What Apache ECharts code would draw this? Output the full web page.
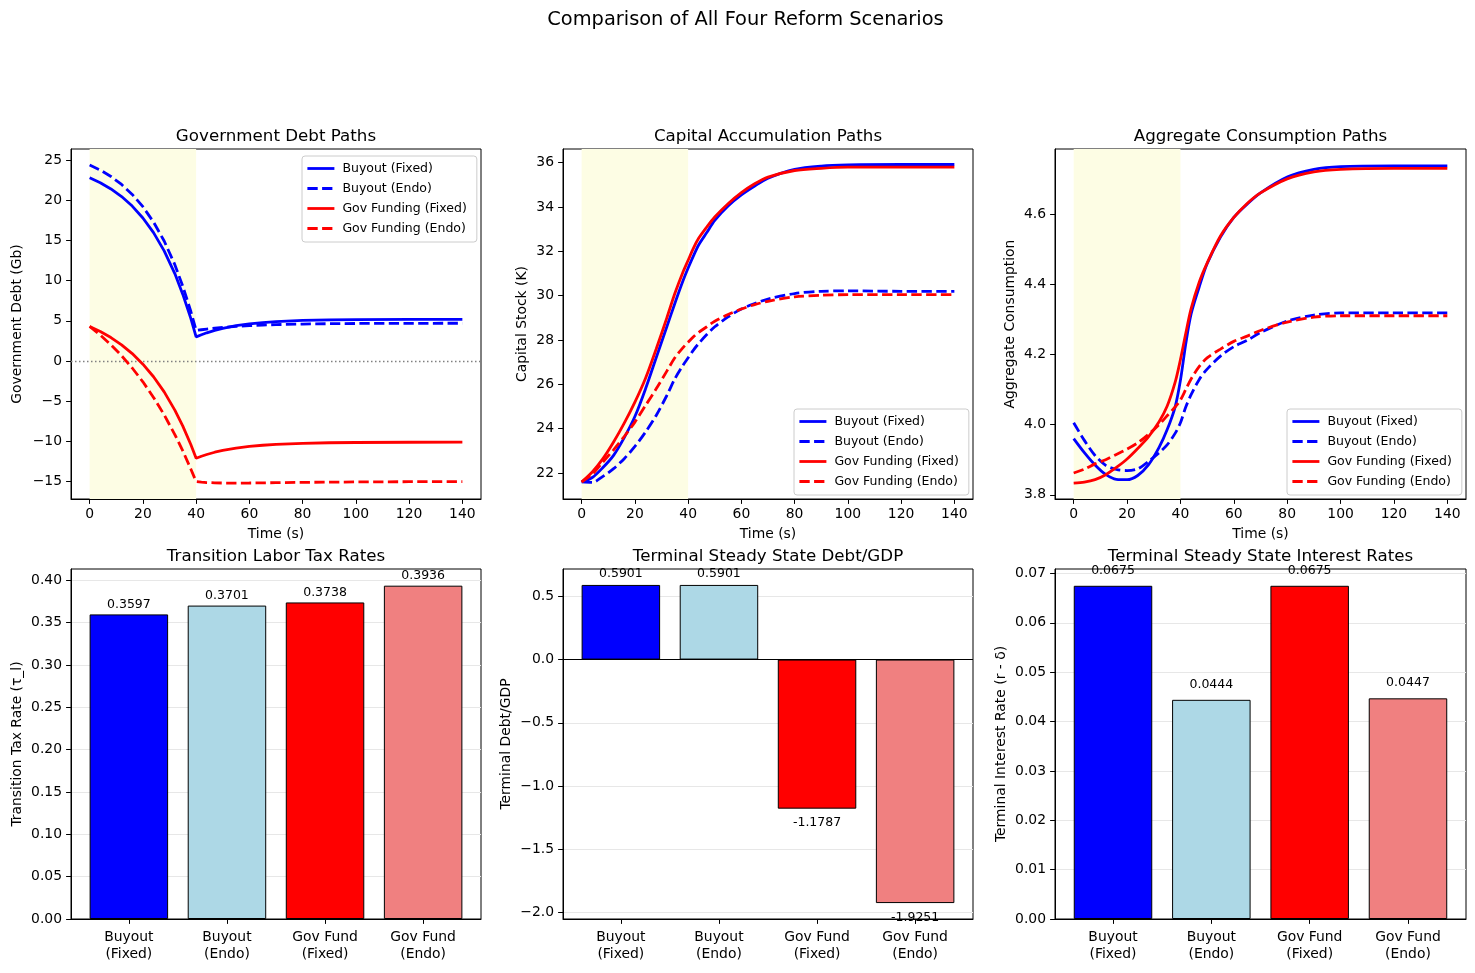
<!DOCTYPE html>
<html><head><meta charset="utf-8">
<script src="https://cdn.jsdelivr.net/npm/echarts@6/dist/echarts.min.js"></script>
<style>html,body{margin:0;padding:0;background:#fff}#c{width:1475px;height:973px}</style>
</head><body><div id="c"></div>
<script>
// ---- data ----
const timeSteps = [0,4,8,12,16,20,24,28,32,35,38,40,42,44,47,50,55,60,65,70,80,90,100,120,140];

const debtBuyoutFixed = [22.8,22.18,21.41,20.46,19.28,17.80,15.97,13.70,10.88,8.29,5.31,3.0,3.27,3.51,3.82,4.07,4.39,4.62,4.78,4.90,5.05,5.12,5.15,5.17,5.17];
const debtBuyoutEndo  = [24.4,23.76,22.96,21.97,20.73,19.20,17.29,14.93,11.99,9.29,6.19,3.8,3.89,3.98,4.09,4.18,4.31,4.40,4.48,4.53,4.60,4.64,4.67,4.69,4.70];
const debtGovFixed    = [4.3,3.67,2.92,2.01,0.92,-0.39,-1.96,-3.84,-6.11,-8.10,-10.39,-12.1,-11.85,-11.63,-11.35,-11.13,-10.84,-10.63,-10.48,-10.37,-10.24,-10.17,-10.14,-10.11,-10.1];
const debtGovEndo     = [4.3,3.23,2.02,0.66,-0.87,-2.59,-4.53,-6.70,-9.15,-11.18,-13.44,-15.0,-15.07,-15.12,-15.16,-15.18,-15.19,-15.18,-15.16,-15.14,-15.1,-15.07,-15.05,-15.02,-15.0];

const capBuyoutFixed = [21.6,21.8,22.25,22.8,23.6,24.55,25.8,27.2,28.6,29.65,30.65,31.25,31.8,32.3,32.85,33.4,34.05,34.55,34.95,35.3,35.7,35.85,35.9,35.92,35.92];
const capBuyoutEndo  = [21.6,21.58,21.85,22.2,22.65,23.2,23.85,24.6,25.5,26.25,26.85,27.2,27.55,27.85,28.25,28.6,29.05,29.4,29.65,29.85,30.1,30.2,30.22,30.2,30.2];
const capGovFixed    = [21.6,22.05,22.65,23.4,24.25,25.2,26.28,27.6,29.0,30.1,31.05,31.6,32.15,32.6,33.1,33.55,34.15,34.65,35.05,35.35,35.65,35.75,35.8,35.8,35.8];
const capGovEndo     = [21.6,21.95,22.5,23.05,23.65,24.3,25.05,25.8,26.6,27.2,27.65,27.9,28.15,28.35,28.6,28.85,29.15,29.4,29.6,29.75,29.95,30.02,30.05,30.05,30.05];

const consBuyoutFixed = [3.96,3.92,3.885,3.858,3.844,3.843,3.855,3.885,3.935,3.985,4.05,4.126,4.23,4.315,4.391,4.458,4.534,4.59,4.628,4.66,4.705,4.727,4.735,4.737,4.737];
const consBuyoutEndo  = [4.005,3.955,3.912,3.884,3.872,3.869,3.874,3.895,3.92,3.942,3.975,4.005,4.05,4.085,4.128,4.158,4.195,4.222,4.24,4.262,4.295,4.312,4.318,4.318,4.318];
const consGovFixed    = [3.833,3.836,3.843,3.857,3.878,3.902,3.932,3.965,4.008,4.052,4.12,4.185,4.26,4.33,4.405,4.46,4.537,4.59,4.63,4.66,4.70,4.72,4.727,4.73,4.73];
const consGovEndo     = [3.862,3.873,3.888,3.9,3.915,3.93,3.948,3.972,4.0,4.025,4.05,4.07,4.1,4.13,4.165,4.19,4.215,4.237,4.252,4.268,4.292,4.306,4.31,4.31,4.31];

const seriesNames = ['Buyout (Fixed)','Buyout (Endo)','Gov Funding (Fixed)','Gov Funding (Endo)'];

const barCategories = ['Buyout\n(Fixed)','Buyout\n(Endo)','Gov Fund\n(Fixed)','Gov Fund\n(Endo)'];
const taxRates      = [0.3597,0.3701,0.3738,0.3936];
const debtToGdp     = [0.5901,0.5901,-1.1787,-1.9251];
const interestRates = [0.0675,0.0444,0.0675,0.0447];

const timeTicks   = [0,20,40,60,80,100,120,140];
const debtTicks   = [-15,-10,-5,0,5,10,15,20,25];
const capTicks    = [22,24,26,28,30,32,34,36];
const consTicks   = [3.8,4.0,4.2,4.4,4.6];
const taxTicks    = [0,0.05,0.10,0.15,0.20,0.25,0.30,0.35,0.40];
const dgdpTicks   = [-2.0,-1.5,-1.0,-0.5,0.0,0.5];
const rateTicks   = [0,0.01,0.02,0.03,0.04,0.05,0.06,0.07];
const barTicks    = [0,1,2,3];

// ---- styles ----
const FONT = 'DejaVu Sans';
const lineColors = ['#0000ff','#0000ff','#ff0000','#ff0000'];
const lineTypes = ['solid',[10.3,4.4],'solid',[10.3,4.4]];
const barColors = ['#0000ff','#add8e6','#ff0000','#f08080'];
const minus = s => s.replace('-', '\u2212');

const grids = [
  {left:71, top:149, width:410, height:350},
  {left:563, top:149, width:410, height:350},
  {left:1055, top:149, width:411, height:350},
  {left:71, top:569, width:410, height:350},
  {left:563, top:569, width:410, height:350},
  {left:1055, top:569, width:411, height:350}
].map(g => Object.assign({show:true, borderColor:'#000', borderWidth:1, backgroundColor:'transparent'}, g));

function baseAxis(gi, ticks, fmt) {
  return {
    gridIndex: gi,
    axisLine: {show:true, onZero:false, lineStyle:{color:'#000', width:1}},
    axisTick: {show:true, length:4.9, customValues:ticks, lineStyle:{color:'#000', width:1}},
    axisLabel: {customValues:ticks, color:'#000', fontSize:13.9, fontFamily:FONT, formatter:fmt},
    nameTextStyle: {color:'#000', fontSize:13.9, fontFamily:FONT},
    nameLocation: 'middle'
  };
}

const xAxes = [], yAxes = [];
for (let gi = 0; gi < 3; gi++) {
  const ax = baseAxis(gi, timeTicks, v => String(v));
  Object.assign(ax, {type:'value', min:-7, max:147, name:'Time (s)', nameGap:28, splitLine:{show:false}});
  ax.axisLabel.margin = 8;
  xAxes.push(ax);
}
const lineY = [
  {ticks:debtTicks, min:-17.17, max:26.38, name:'Government Debt (Gb)', gap:47, fmt:v=>minus(String(v))},
  {ticks:capTicks, min:20.83, max:36.62, name:'Capital Stock (K)', gap:34, fmt:v=>String(v)},
  {ticks:consTicks, min:3.788, max:4.785, name:'Aggregate Consumption', gap:38, fmt:v=>v.toFixed(1)}
];
lineY.forEach((c, gi) => {
  const ax = baseAxis(gi, c.ticks, c.fmt);
  Object.assign(ax, {type:'value', min:c.min, max:c.max, name:c.name, nameGap:c.gap, splitLine:{show:false}});
  ax.axisLabel.margin = 9;
  yAxes.push(ax);
});
for (let gi = 3; gi < 6; gi++) {
  const ax = baseAxis(gi, barTicks, v => barCategories[Math.round(v)]);
  Object.assign(ax, {type:'value', min:-0.59, max:3.59, splitLine:{show:false}});
  ax.axisLabel.margin = 10;
  ax.axisLabel.lineHeight = 17;
  xAxes.push(ax);
}
const barY = [
  {ticks:taxTicks, min:0, max:0.4133, name:'Transition Tax Rate (\u03c4_l)', gap:47, fmt:v=>v.toFixed(2)},
  {ticks:dgdpTicks, min:-2.051, max:0.716, name:'Terminal Debt/GDP', gap:50, fmt:v=>minus(v.toFixed(1))},
  {ticks:rateTicks, min:0, max:0.0709, name:'Terminal Interest Rate (r - \u03b4)', gap:47, fmt:v=>v.toFixed(2)}
];
barY.forEach((c, k) => {
  const ax = baseAxis(k + 3, c.ticks, c.fmt);
  Object.assign(ax, {type:'value', min:c.min, max:c.max, name:c.name, nameGap:c.gap,
    splitLine:{show:true, lineStyle:{color:'#e7e7e7', width:1}}});
  ax.axisLabel.margin = 9;
  yAxes.push(ax);
});

const series = [];
const lineSets = [
  [debtBuyoutFixed, debtBuyoutEndo, debtGovFixed, debtGovEndo],
  [capBuyoutFixed, capBuyoutEndo, capGovFixed, capGovEndo],
  [consBuyoutFixed, consBuyoutEndo, consGovFixed, consGovEndo]
];
lineSets.forEach((set, gi) => {
  set.forEach((ys, k) => {
    const s = {
      type:'line', name:seriesNames[k], xAxisIndex:gi, yAxisIndex:gi,
      data: timeSteps.map((t, i) => [t, ys[i]]),
      symbol:'none', showSymbol:false,
      smooth: gi === 0 ? false : 0.3,
      lineStyle:{color:lineColors[k], width:2.8, type:lineTypes[k]},
      itemStyle:{color:lineColors[k]},
      z: 3 + k
    };
    if (k === 0) {
      s.markArea = {silent:true, itemStyle:{color:'#fdfde4'}, data:[[{xAxis:0},{xAxis:40}]]};
    }
    if (k === 0 && gi === 0) {
      s.markLine = {silent:true, symbol:['none','none'], label:{show:false},
        lineStyle:{color:'#808080', type:[1.5,2.5], width:1.4}, data:[{yAxis:0}]};
    }
    series.push(s);
  });
});
const barSets = [taxRates, debtToGdp, interestRates];
const labelDist = [[3,3],[5,8],[9,9]];
barSets.forEach((vals, k) => {
  const gi = k + 3;
  const s = {
    type:'bar', name:'bars' + k, xAxisIndex:gi, yAxisIndex:gi, barWidth:78.5,
    data: vals.map((v, i) => ({
      value:[i, v],
      itemStyle:{color:barColors[i]},
      label:{position: v < 0 ? 'bottom' : 'top', distance: v < 0 ? labelDist[k][1] : labelDist[k][0]}
    })),
    itemStyle:{borderColor:'#000', borderWidth:1},
    label:{show:true, fontSize:12.5, color:'#000', fontFamily:FONT, formatter:p => p.value[1].toFixed(4)},
    z: 3
  };
  if (k === 1) {
    s.markLine = {silent:true, symbol:['none','none'], label:{show:false},
      lineStyle:{color:'#000', type:'solid', width:1.1}, data:[{yAxis:0}], z:5};
  }
  series.push(s);
});

const titleStyle = {fontSize:16.7, fontWeight:'normal', color:'#000', fontFamily:FONT};
const panelTitles = [
  ['Government Debt Paths', 276, 128],
  ['Capital Accumulation Paths', 768, 128],
  ['Aggregate Consumption Paths', 1260.5, 128],
  ['Transition Labor Tax Rates', 276, 548],
  ['Terminal Steady State Debt/GDP', 768, 548],
  ['Terminal Steady State Interest Rates', 1260.5, 548]
];
const titles = [{text:'Comparison of All Four Reform Scenarios', left:745.5, top:10, textAlign:'center', padding:0,
  textStyle:{fontSize:19.4, fontWeight:'normal', color:'#000', fontFamily:FONT}}]
  .concat(panelTitles.map(t => ({text:t[0], left:t[1], top:t[2], textAlign:'center', padding:0, textStyle:titleStyle})));

const legendItems = seriesNames.map((n, k) => ({
  name:n,
  itemStyle:{opacity:0},
  lineStyle:{type:lineTypes[k], width:2.8, color:lineColors[k]}
}));
const legendBase = {
  orient:'vertical', data:legendItems, itemWidth:27, itemHeight:12, itemGap:7,
  padding:[6,10,7,4], borderColor:'#cccccc', borderWidth:1, borderRadius:3,
  backgroundColor:'rgba(255,255,255,0.8)',
  itemStyle:{opacity:0},
  textStyle:{fontSize:12.5, color:'#000', fontFamily:FONT, padding:[0,0,0,3]}
};
const legends = [
  Object.assign({left:302, top:156}, legendBase),
  Object.assign({left:794, top:409}, legendBase),
  Object.assign({left:1287, top:409}, legendBase)
];

const chart = echarts.init(document.getElementById('c'));
chart.setOption({
  animation:false,
  backgroundColor:'#fff',
  textStyle:{fontFamily:FONT},
  title:titles,
  legend:legends,
  grid:grids,
  xAxis:xAxes,
  yAxis:yAxes,
  series:series
});
</script>
</body></html>
